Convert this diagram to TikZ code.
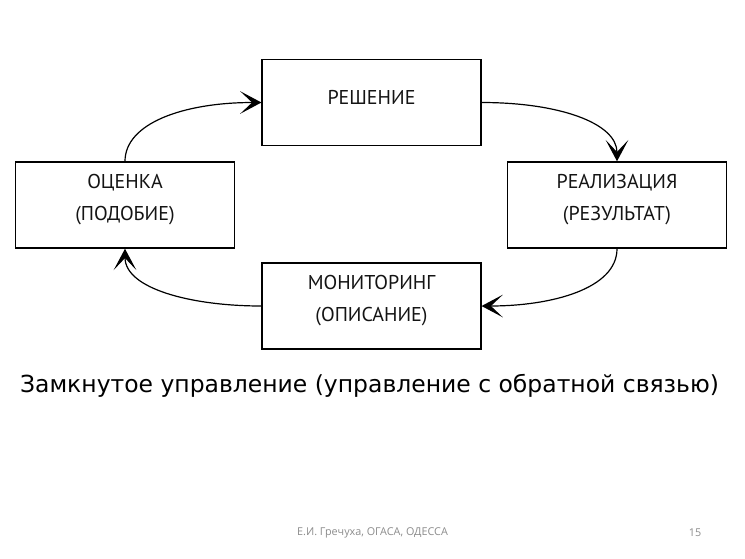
\documentclass[tikz,border=0pt]{standalone}
\usepackage{fontspec}
\setmainfont{DejaVu Sans}
\newfontfamily\footfont{Open Sans}
\newfontfamily\boxfont{PT Sans}
\usetikzlibrary{arrows.meta}
\begin{document}
\begin{tikzpicture}[x=0.75pt,y=-0.75pt,
  stepbox/.style={draw=black, line width=1.1pt, minimum width=164pt, minimum height=64.5pt, inner sep=0pt},
  boxtext/.style={font=\boxfont\fontsize{15pt}{24pt}\selectfont, align=center, text=black!92, inner sep=0pt},
  flow/.style={line width=0.9pt, -{Stealth[length=16pt,width=17pt,inset=9pt]}},
  caption/.style={font=\fontsize{17.6pt}{21pt}\selectfont, text=black, inner sep=0pt},
  foot/.style={font=\footfont\fontsize{8.1pt}{10pt}\selectfont, text=black!45, inner sep=0pt}]
\fill[white] (0,0) rectangle (745,558);
\useasboundingbox (0,0) rectangle (745,558);
% boxes
\node[stepbox] (resh) at (371.5,102.5) {};
\node[stepbox] (ocen) at (125,205) {};
\node[stepbox] (real) at (617,205) {};
\node[stepbox] (moni) at (371.5,306) {};
% texts
\node[boxtext] (resh-t) at (371.5,97.5) {РЕШЕНИЕ};
\node[boxtext] (ocen-t) at (125,200) {ОЦЕНКА\\(ПОДОБИЕ)};
\node[boxtext] (real-t) at (617,200) {РЕАЛИЗАЦИЯ\\(РЕЗУЛЬТАТ)};
\node[boxtext] (moni-t) at (371.5,301) {МОНИТОРИНГ\\(ОПИСАНИЕ)};
% connectors
\draw[flow] (ocen.north) .. controls +(0,-38) and +(-78,0) .. (resh.west);
\draw[flow] (resh.east) .. controls +(78,0) and +(0,-38) .. (real.north);
\draw[flow] (real.south) .. controls +(0,40) and +(70,0) .. (moni.east);
\draw[flow] (moni.west) .. controls +(-70,0) and +(0,40) .. (ocen.south);
% caption and footer
\node[caption] (cap) at (369.5,386) {Замкнутое управление (управление с обратной связью)};
\node[foot] (foot) at (372.5,533) {Е.И. Гречуха, ОГАСА, ОДЕССА};
\node[foot] (page) at (695,533) {15};
\end{tikzpicture}
\end{document}
